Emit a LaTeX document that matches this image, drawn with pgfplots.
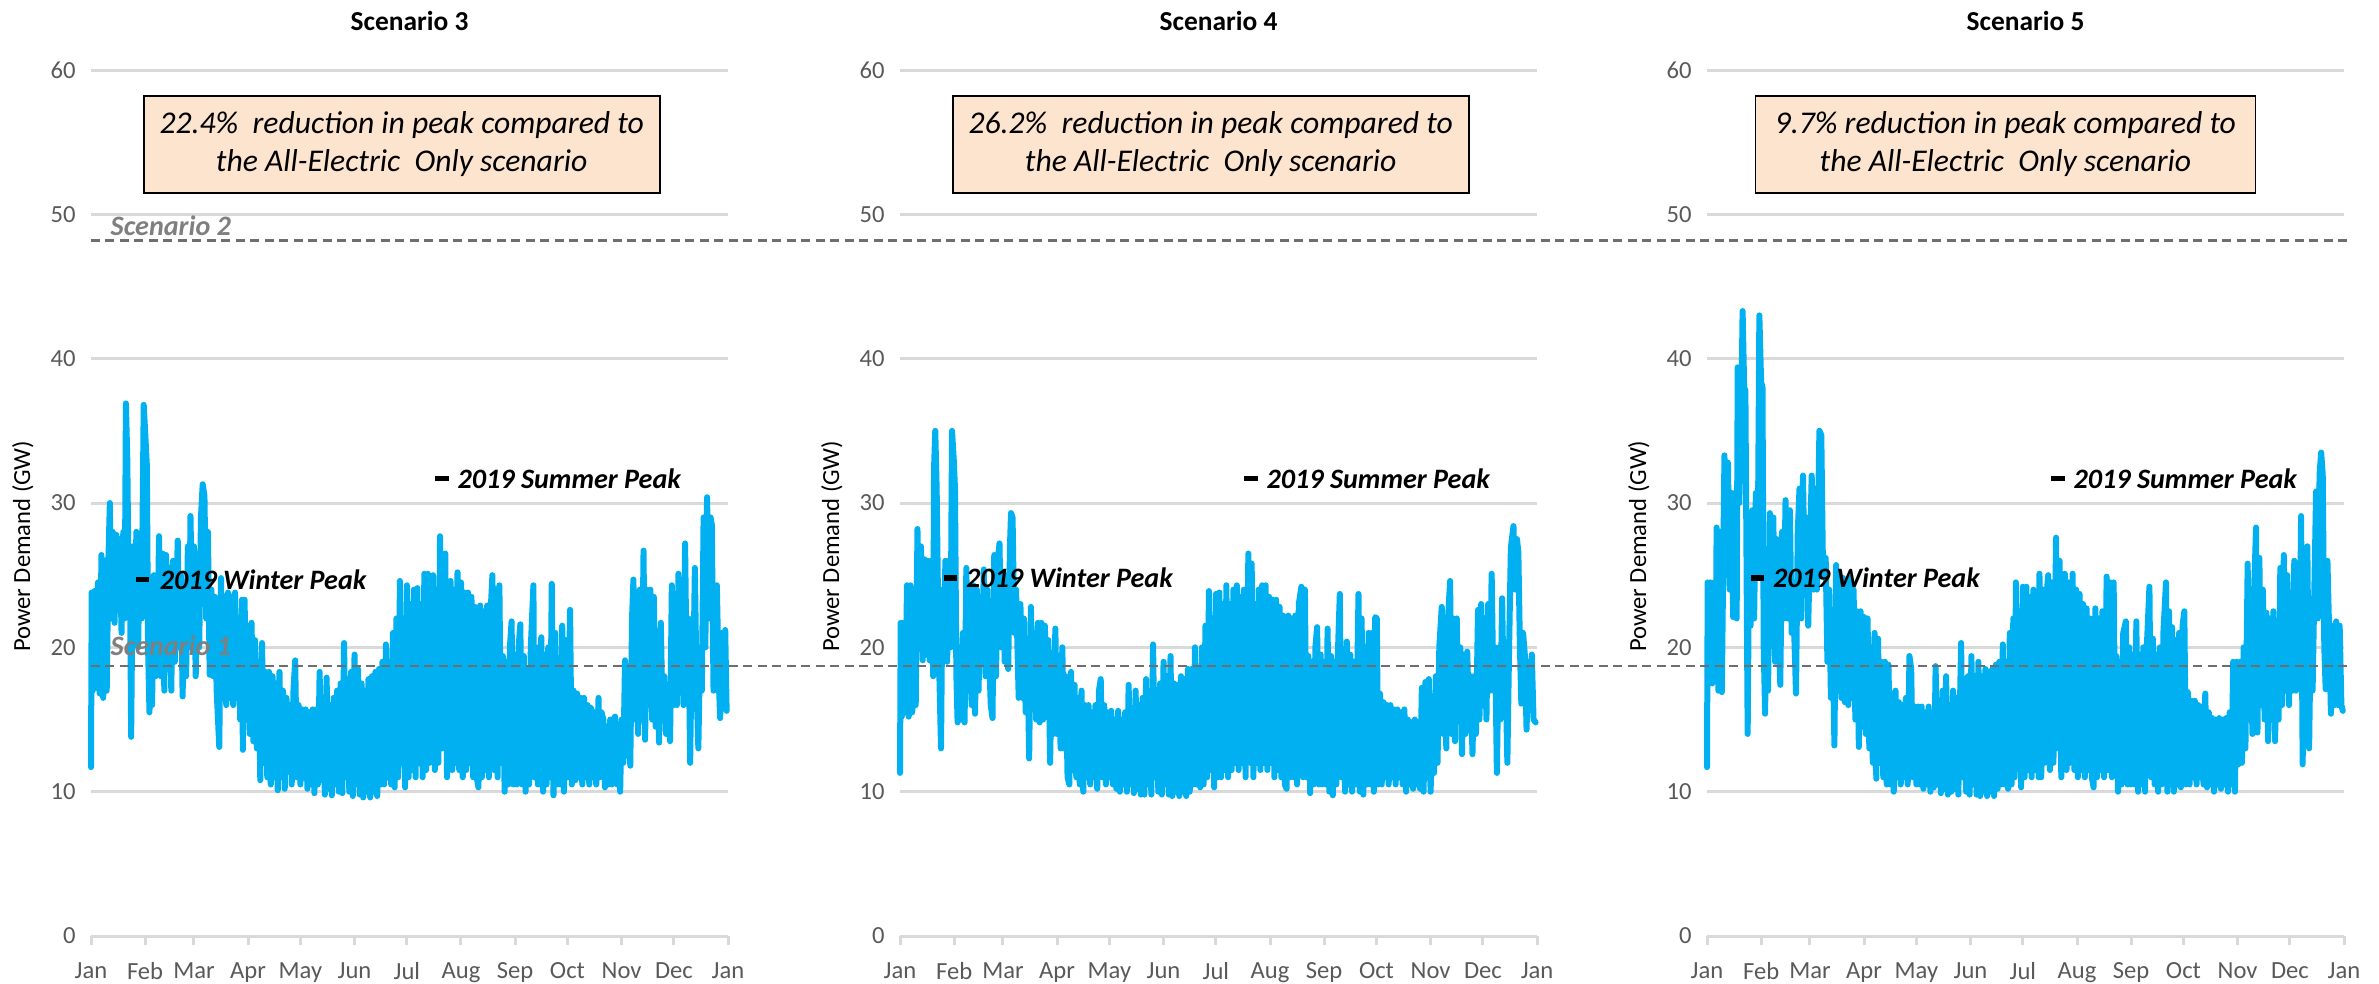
\documentclass[border=0pt]{standalone}
\usepackage{pgfplots}
\pgfplotsset{compat=1.18}
\usepackage{fontspec}
\setmainfont{Carlito}
\definecolor{series}{HTML}{00B0F0}
\definecolor{gridc}{HTML}{D9D9D9}
\definecolor{tickc}{HTML}{595959}
\definecolor{refc}{HTML}{6E6E6E}
\definecolor{lblc}{HTML}{7F7F7F}
\definecolor{boxc}{HTML}{FCE4CF}

\pgfplotsset{
  panel/.style={
    scale only axis, width=6.37cm, height=8.66cm,
    xmin=0, xmax=365, ymin=0, ymax=60,
    axis x line*=bottom, axis y line*=left,
    y axis line style={draw=none}, ytick style={draw=none},
    x axis line style={gridc, line width=0.3mm},
    xtick style={gridc, line width=0.3mm},
    xtick align=outside, major tick length=0.9mm,
    ymajorgrids, grid style={gridc, line width=0.3mm},
    ytick={0,10,...,60},
    xtick={0,31,59,90,120,151,181,212,243,273,304,334,365},
    xticklabels={Jan,Feb,Mar,Apr,May,Jun,Jul,Aug,Sep,Oct,Nov,Dec,Jan},
    tick label style={font=\fontsize{7}{8}\selectfont, text=tickc},
    xticklabel style={yshift=-0.5mm},
    yticklabel style={xshift=-0.3mm},
    /pgf/number format/assume math mode=true,
    ylabel={Power Demand (GW)},
    ylabel style={at={(axis description cs:-0.107,0.45)}, anchor=center, font=\fontsize{7}{8}\selectfont, text=black},
    title style={at={(axis description cs:0.5,1)}, anchor=center, yshift=2.8mm, font=\bfseries\fontsize{7.8}{9}\selectfont},
    clip=false,
  },
  demand/.style={series, line width=0.6mm, line join=round, line cap=round, mark=none},
  peakmark/.style={black, line width=0.55mm, mark=none},
}
\newcommand{\pklabel}{\bfseries\itshape\fontsize{8}{9.6}\selectfont}
\newcommand{\boxtext}{\itshape\fontsize{9}{10.9}\selectfont}

\begin{document}
\begin{tikzpicture}
\useasboundingbox (0,0) rectangle (23.79,9.83);

% ---------------- Scenario 3 ----------------
\begin{axis}[panel, at={(0.91cm,0.47cm)}, anchor=south west, title={Scenario 3}]
\addplot[demand] coordinates {
(0,11.7)(0.4,23.8)(1,17)(2,23.9)(3,17.2)(4,24.5)(5,16.8)(6,26.4)(7,16.5)(8,26)(9,17)(10,26.2)(10.8,30)(11.5,22)(12.5,28)(13.5,21.7)(14.5,27.8)(15.5,23)(16.5,27.5)(17.5,21)(18.5,28)(19.3,22)(20,36.9)(20.8,33)(21.5,25)(22.3,26)(23,13.8)(24,27)(25,21)(26,28)(27,20)(28,27.5)(29,22)(30.2,36.8)(31,35)
(32,32.6)(32.7,20)(33.5,15.5)(34.3,24)(35,16)(36,25)(37,18)(38,20)(39,27.7)(40,18)(41,26.5)(42,17)(43,26.4)(44,18.5)(45,25.5)(46,17)(47,26)(48,19)(49.7,27.4)(50.5,20)(51.5,25)(52.5,16.6)(53.5,24.5)(54.5,18)(55.5,27)(56.3,20)(57,29.1)(58,22)(59,27)
(60,18)(61,26)(62,20)(63,29)(64,31.3)(65,30.5)(66,22)(67,28)(68,18.1)(69,24)(70,18)(71,23.5)(72,17)(73.5,13.1)(74.5,24.8)(75.5,17)(76.5,23.5)(77.5,16)(78.5,23.8)(79.5,16.5)(80.5,23.5)(81.5,16)(82.5,23.8)(83.5,16.5)(84.5,22)(85.5,15)(86.5,23.3)(87,12.9)(88,23.3)(89,15)(90,21.5)
(91,14)(92,21.7)(93,13.5)(94,20.5)(95,13)(96,19)(97,10.8)(98,20.3)(99,12)(100,18.3)(101,11)(102,18.3)(103,10.5)(104,18)(105,11)(106,17.5)(107,10.1)(108,18.3)(109,11)(110,17)(111,10.2)(112,16.5)(113,11.5)(114,16)(115,10.5)(116,17)(117,19.1)(118,11)(119,16)(120,10.5)
(121,15.7)(122,11)(123,15.7)(124,10.2)(125,15.5)(126,10.5)(127,15.7)(128,9.9)(129,15.7)(130,10.5)(131,18.3)(132,10.8)(133,15.5)(134,9.8)(135,17.9)(136,10.2)(137,16)(138,9.75)(139,16.5)(140,10.5)(141,17)(142,10)(143,17.5)(144,9.9)(145,20.3)(146,11)(147,17)(148,10)(149,18.3)(150,9.7)(151,19.5)
(152,10.5)(153,18.5)(154,9.8)(155,17.5)(156,9.6)(157,17)(158,10)(159,17.8)(160,9.6)(161,18)(162,10)(163,18.3)(164,9.7)(165,18.5)(166,10.5)(167,19)(168,10.5)(169,20.2)(170,11)(171,19)(172,10.5)(173,21)(174,10.3)(175,22)(176,11)(177,24.6)(178,12)(179,22)(180,10.3)(181,24.3)
(182,11)(183,23)(184,11.5)(185,24)(186,11)(187,24.1)(188,12)(189,23)(190,11)(191,25.1)(192,11.5)(193,25.1)(194,12)(195,23.5)(196,25)(197,11.5)(198,24)(199,12)(200,27.7)(201,13)(202,26)(203,26.5)(204,11)(205,22)(206,24.6)(207,11.5)(208,24)(209,12)(210,25.2)(211,11.5)(212,24.5)
(213,11)(214,23.8)(215,11.5)(216,23.8)(217,12)(218,23.5)(219,11)(220,22.8)(221,11)(222,10.3)(223,22.9)(224,11)(225,22.5)(226,11.5)(227,22.9)(228,11)(229,22.5)(230,25)(231,11.5)(232,24)(233,11)(234,24.3)(235,12)(236,19.4)(237,10)(238,19)(239,10.5)(240,20)(241,21.8)(242,10.5)(243,19.5)
(244,10.5)(245,20)(246,21.6)(247,10.5)(248,19.4)(249,10)(250,18.5)(251,10.5)(252,20)(253.5,24.3)(254,11)(255,20)(256,10.5)(257,19)(258,20.7)(259,10)(260,19.5)(261,10.5)(262,20)(263,11)(264,24.4)(265,9.75)(266,21)(267,10.5)(268,19)(269,10.5)(270,21.5)(271,10)(272,20.5)(273,11)(274.5,22.6)
(275.5,10.5)(276.5,17)(277.5,10.8)(278.5,16.8)(279.5,11)(280.5,16.5)(281.5,10.5)(282.5,16.5)(283.5,11)(284.5,16)(285.5,10.5)(286.5,15.8)(287.5,11)(288.5,15.5)(289.5,10.5)(290.8,16.5)(291.5,11)(292.5,15.5)(293.6,15)(294.5,10.3)(295.5,14.5)(296.5,10.5)(297.5,15)(298.5,10.5)(299.5,15)(300.3,15.2)(301.5,10.5)(302.5,14.5)(303.2,10)(304,15)
(305,12)(306,19.1)(307,12.5)(308,17)(309,11.8)(310,22)(310.8,24.7)(311.6,15)(312.5,22)(313.5,14)(314.5,24)(315.5,15)(316.6,26.7)(317.5,13.6)(318.5,24)(319.5,16)(320.5,24)(321.5,15)(322.5,23.5)(323.5,14.5)(324.5,20)(325.5,13.4)(326.5,21.7)(327.5,15)(328.5,18)(329.5,14)(330.5,17)(331.8,13.5)(332.8,24.3)(333.8,16)
(334.8,23)(335.7,16)(336.6,25.1)(337.5,17)(338.5,22)(339.5,16)(340.4,27.2)(341.3,18)(342.3,22)(343.3,12)(344.2,20)(345,17)(346,25.5)(347,17)(348,13)(349,20)(350,17)(351,29)(352,20)(353,30.4)(354,22)(355,29)(355.7,28.5)(356.7,17)(357.6,22)(358.6,24.3)(359.6,18)(360.5,15.1)(361.5,21)(362.5,16)(363.4,21.2)(364.2,15.6)
};
\addplot[peakmark] coordinates {(26,24.7) (33.5,24.7)};
\addplot[peakmark] coordinates {(197,31.7) (205,31.7)};
\node[anchor=west, inner sep=0] at (axis cs:39,24.7) {\pklabel 2019 Winter Peak};
\node[anchor=west, inner sep=0] at (axis cs:209.7,31.7) {\pklabel 2019 Summer Peak};
\node[anchor=west, inner sep=0, text=lblc] at (axis cs:10.9,49.2) {\pklabel Scenario 2};
\node[anchor=west, inner sep=0, text=lblc] at (axis cs:10.9,20.1) {\pklabel Scenario 1};
\node[draw=black, line width=0.5pt, fill=boxc, minimum width=5.16cm, minimum height=0.97cm, align=center, inner sep=0, font=\boxtext] at (axis cs:178,54.85) {22.4\%\ \ reduction in peak compared to\\the All-Electric\ \ Only scenario};
\end{axis}

% ---------------- Scenario 4 ----------------
\begin{axis}[panel, at={(9.00cm,0.47cm)}, anchor=south west, title={Scenario 4}]
\addplot[demand] coordinates {
(0,11.3)(0.4,21.7)(1,15.2)(2,21.7)(3,15.5)(4,24.3)(5,15.2)(6,24.3)(7,15.5)(8,24)(9,16)(10,28.2)(11,20)(12,27)(13,19.1)(14,26.1)(15,19.5)(16,26)(17,19.1)(18,26)(19,18)(19.5,32.4)(20.2,35)(21,31)(22,21)(23.5,13)(24.3,24)(25,19)(26,26)(27,19)(28,26)(29,20)(29.8,35)(30.8,33)(31.5,31)
(32.3,18)(33,14.8)(34,20)(35,15)(36,21)(37,14.8)(38,25.5)(39,17)(40,24)(41,16)(42,24.3)(43,15.4)(44,24)(45,17)(46,23.5)(47,19)(48,25.4)(49,18)(50,24)(51,19.5)(52,16)(53,15.1)(54,26.4)(55,18)(56,26)(57,27.2)(58,20)(59,25)
(60,19)(61,25)(62,18.5)(63,27)(63.6,29.3)(64.5,29)(65.5,21)(66.5,24)(68,16.5)(69,23)(70,16.5)(71,22)(72,15.5)(73,20)(74,12.3)(75,22.8)(76,16)(77,21)(78,15)(79,21.7)(80,14.8)(81,21.7)(82,15)(83,21.5)(84,15.5)(85,20.5)(86,12)(87,19)(88,14)(89,21.3)(90,14)
(91,19)(92,13)(93,20)(94,13)(95,18)(96,11)(97,10.5)(98,18.3)(99,11.5)(100,17.4)(101,11)(102,16.5)(103,10.5)(104,17)(105,10)(106,16)(107,11)(108,16)(109,10.5)(110,15.5)(111,11)(112,16)(113,10.2)(114,17)(115,17.8)(116,11)(117,16)(118,10.5)(119,15.5)(120,11)
(121,15.6)(122,10.5)(123,15)(124,10.2)(125,15.6)(126,10)(127,15)(128,10.5)(129,15.5)(130,10)(131,17.4)(132,10.5)(133,15)(134,9.9)(135,17)(136,10.2)(137,16)(138,9.8)(139,16.5)(140,9.8)(141,17.8)(142,10.5)(143,16)(144,9.8)(145,20.2)(146,11)(147,16.5)(148,10)(149,17.5)(150,9.8)(151,19)
(152,10.5)(153,18)(154,9.8)(155,19.4)(156,9.7)(157,17.5)(158,10)(159,17.4)(160,9.7)(161,18)(162,10)(163,17.8)(164,9.7)(165,18.5)(166,10)(167,18.5)(168,10.5)(169,20)(170,10.5)(171,18.5)(172,10.3)(173,20)(174,10.5)(175,21.5)(176,11)(177,23.9)(178,11.5)(179,22)(180,10.3)(181,23.7)
(182,11)(183,23.8)(184,11)(185,23)(186,11.5)(187,24.3)(188,11)(189,23)(190,11.5)(191,24)(192,12)(193,24.3)(194,11.5)(195,23.5)(196,12)(197,24)(198,11)(199.6,26.5)(200.5,12)(201.5,25.8)(202.5,11)(203.5,23)(204.5,12)(205.5,24)(206.5,11.5)(207.5,24.3)(208.5,12)(209.5,24.3)(210.5,11.5)(211.5,23.5)
(212.5,12)(213.5,23.3)(214.5,11)(215.5,23.3)(216.5,11.5)(217.5,22.8)(218.5,11)(219.5,22.2)(220.5,10.5)(221.5,10.2)(222.5,22.2)(223.5,11)(224.5,22)(225.5,11)(226.5,22.2)(227.5,10.5)(228.5,23)(230,24.2)(231,11)(232,24)(233,11)(234,19.4)(235,9.9)(236,19)(237,10.5)(238,20)(239,21.4)(240,10.5)(241,19.5)(242,10.5)(243,19)
(244,10.5)(245,21.3)(246,10)(247,19.4)(248,9.75)(249,19)(250,10.5)(251,20)(252,23.7)(253,11)(254,19.5)(255,10)(256,20.4)(257,10.5)(258,19.5)(259,10)(260,19)(261,10.5)(262.7,23.7)(263.5,10)(264.5,22)(265.5,9.8)(266.5,20)(267.5,10.5)(268.5,21)(269.5,10.5)(270.5,21)(271.5,10)(272.3,22.1)(273.2,22)
(274,10.5)(275,16.8)(276,10.5)(277,16.2)(278,11)(279,16)(280,10.5)(281,16)(282,11)(283,15.7)(284,10.5)(285,15.7)(286,11)(287,15.5)(288,10.5)(289,15.7)(290,10)(291,15)(292,10.5)(293,14.8)(294,10.2)(295,15)(296,10.5)(297,14.8)(298,10.2)(299,17.2)(300,10)(301,17.6)(302,11)(303,17.8)(304,10)
(305,14)(306,11.3)(307,18)(308,12)(309,20)(310.4,22.8)(311.3,14)(312.2,20)(313,13)(314,22)(315.2,24.6)(316,14)(317,22)(318,13.5)(319,22)(320,15)(321,20)(322,12.6)(323,19.5)(324,14)(325,19.7)(326,15)(327,18)(328,12.6)(329,18)(330,14)(331.2,22.6)(332,15)(333,23)(334,16)
(335,22)(336,15)(337,23)(338,17)(339,25.1)(340,17)(341,20)(342,11.3)(343,20)(344,15)(345,23.4)(346,16)(347,18)(348,12)(349,20)(350,26.9)(351.5,28.4)(352.5,24)(353.5,27.5)(354.3,26.6)(355.2,20)(356,16.1)(357,21)(358,19.5)(359,14.3)(360,19)(361,16)(362,19.5)(363,15)(364.2,14.8)
};
\addplot[peakmark] coordinates {(25,24.8) (32.5,24.8)};
\addplot[peakmark] coordinates {(197,31.7) (205,31.7)};
\node[anchor=west, inner sep=0] at (axis cs:37.5,24.8) {\pklabel 2019 Winter Peak};
\node[anchor=west, inner sep=0] at (axis cs:209.7,31.7) {\pklabel 2019 Summer Peak};
\node[draw=black, line width=0.5pt, fill=boxc, minimum width=5.16cm, minimum height=0.97cm, align=center, inner sep=0, font=\boxtext] at (axis cs:178,54.85) {26.2\%\ \ reduction in peak compared to\\the All-Electric\ \ Only scenario};
\end{axis}

% ---------------- Scenario 5 ----------------
\begin{axis}[panel, at={(17.07cm,0.47cm)}, anchor=south west, title={Scenario 5}]
\addplot[demand] coordinates {
(0,11.7)(0.4,24.5)(1,17.5)(2,24.5)(3,17.5)(4,24.5)(5,17.8)(5.5,28.3)(6.5,17)(7.5,28)(8.5,16.9)(9.5,28)(10,33.3)(11,25)(12,32.8)(13,24)(14,30.7)(15,22.1)(16,30.7)(17,22)(17.6,39.4)(18.5,30)(19.5,35)(20.4,43.3)(21.3,38)(22,37.8)(23.3,14)(24.2,28)(25,21.5)(26,29.5)(27,22)(28,30.7)(29,25)(30,43)(31,38.4)(31.8,38)
(32.5,20)(33.3,15.4)(34,24)(35,17)(36,29.3)(37,21)(38,29)(39,19)(40,27.5)(41,21)(42,17.4)(43,28)(44,22)(45,30.2)(46,22)(47.5,29.5)(48.5,21)(49.5,23)(51,16.8)(52,28)(53,31)(54,22)(55,31.9)(56,24)(57,29)(58,21.5)(59,27)
(60,31.9)(61,24)(62,31)(63,24)(64.4,35)(65.5,34.7)(66.5,25)(68,26.2)(69,19)(70,24)(71,16.5)(72,21)(73,13.2)(74,25.7)(75,17)(76,24.8)(77,16.5)(78,24.8)(79,16.2)(80,24.5)(81,16)(82,24.8)(83,16.5)(84,24)(85,15)(86,22.5)(87,13.1)(88,22.5)(89,14.5)(90,22.1)
(91,14)(92,22)(93,13)(94,20)(95,12)(96,21)(97,10.9)(98,20.6)(99,12)(100,19)(101,11)(102,19)(103,10.5)(104,18.8)(105,10.5)(106,16.8)(107,10)(108,17)(109,11)(110,16.2)(111,10.5)(112,16)(113,11)(114,16.5)(115,10.5)(116,19.4)(117,18.5)(118,11)(119,15.9)(120,10.5)
(121,15.9)(122,10.5)(123,15.9)(124,10.2)(125,15.5)(126,10.5)(127,15.9)(128,10)(129,15.5)(130,10.3)(131,18.7)(132,10.5)(133,15.5)(134,9.9)(135,17)(136,10.2)(137,18)(138,9.8)(139,16)(140,10)(141,17)(142,10.2)(143,16.5)(144,9.8)(145.6,20.3)(146.5,11)(147.5,17.5)(148.5,10)(149.5,18)(150.5,9.8)(151.5,19.4)
(152.5,10.5)(153.5,18)(154.5,9.8)(155.5,19)(156.5,9.7)(157.5,18)(158.5,10)(159.5,18.5)(160.5,9.7)(161.5,18.3)(162.5,10)(163.5,18.5)(164.5,9.7)(165.5,18.8)(166.5,10.2)(167.5,19)(168.5,10.5)(169.5,20.2)(170.5,10.5)(171.5,19)(172.5,10.2)(173.5,21)(174.5,10.5)(175.5,22)(176.3,11)(177,24.5)(178,12)(179,22.5)(180,10.3)(181,24.2)
(182,11)(183,24.2)(184,11.5)(185,23.5)(186,11)(187,24)(188,11.5)(189,23)(190,11)(190.5,25.1)(191.5,11)(192.5,24)(193.5,12)(194.5,23.5)(195.5,25)(196.5,11.5)(197.5,24.5)(198.5,12)(200,27.6)(201,13)(202,26)(203,11)(204,24)(205,25.1)(206,11.5)(207,24.5)(208,12)(209.5,25.1)(210.5,11.5)(211.5,24)
(212.5,11)(213.5,23.7)(214.5,11.5)(215.5,23)(216.5,11)(217.5,22.7)(218.5,11.5)(219.5,22)(220.5,11)(221.5,10.3)(222.5,22.7)(223.5,11)(224.5,22)(225.5,11.5)(226.5,22.5)(227.5,11)(229,24.9)(230,11.5)(231,24.5)(232,11)(233,24.5)(234,12)(234.5,19.4)(235.5,10)(236.5,19)(237.5,10.5)(238.5,21)(240,21.8)(241,10.5)(242,20)(243,10.5)
(244,19.5)(245,10.5)(246,21.8)(247,10)(248,19.5)(249,10.5)(250,20)(251,10)(252,20)(253.5,24.2)(254.5,11)(255.5,20.6)(256.5,10.5)(257.5,19.5)(258.5,10)(259.5,20)(260.5,10.5)(261.5,21)(263,24.5)(263.8,10)(264.7,22.5)(265.5,10.5)(266.5,21.4)(267.5,10)(268.5,20.5)(269.5,10.5)(270.5,21)(271.5,10.3)(272.5,21.5)(273.5,22.5)
(274.5,10.5)(275.5,16.9)(276.5,10.5)(277.5,16.3)(278.5,11)(279.5,16.3)(280.5,10.5)(281.5,16)(282.5,11)(283.5,15.9)(284.5,10.5)(285.5,16.8)(286.5,10.3)(287.5,15.5)(288.5,10.5)(289.5,15.1)(290.5,10)(291.5,15)(292.5,10.5)(293.5,15.1)(294.5,10.2)(295.5,15)(296.5,10.5)(297.5,15.1)(298.5,10)(299.5,15.5)(300.5,10.5)(301.5,19)(302.5,10)(303.5,19)
(304.5,11.9)(305.5,19)(306.5,12)(307.5,20)(308.5,13)(309.8,25.8)(310.6,15)(311.5,22)(312.5,14)(313.5,24)(314.6,28.3)(315.4,14.1)(316.5,26.2)(317.5,16)(318.5,24)(319.5,15)(320.5,22.4)(321.5,13.5)(322.5,22)(323.5,15)(324.5,22.5)(325.5,13.5)(326.5,21)(327.5,15)(328.5,25.5)(329.5,16)(330.5,26.4)(331.5,17)(332.5,25)(333.5,16)
(334.5,23)(335.5,17)(336.5,26)(337.5,17)(338.5,24)(339.5,18)(340.4,29.1)(341.3,11.9)(342.2,22)(343,16)(344,27)(345,13)(346,22)(347,17)(348,24)(349,30.8)(350,22)(351,32)(351.9,33.5)(352.8,32)(353.7,20)(354.5,17.1)(355.5,26)(356.5,21)(357.5,15.4)(358.5,21.5)(359.5,16)(360.5,21.8)(361.5,16)(362.5,21.5)(363.5,16)(364.3,15.6)
};
\addplot[peakmark] coordinates {(25,24.8) (32.5,24.8)};
\addplot[peakmark] coordinates {(197,31.7) (205,31.7)};
\node[anchor=west, inner sep=0] at (axis cs:37.5,24.8) {\pklabel 2019 Winter Peak};
\node[anchor=west, inner sep=0] at (axis cs:209.7,31.7) {\pklabel 2019 Summer Peak};
\node[draw=black, line width=0.5pt, fill=boxc, minimum width=5.0cm, minimum height=0.97cm, align=center, inner sep=0, font=\boxtext] at (axis cs:171,54.85) {9.7\% reduction in peak compared to\\the All-Electric\ \ Only scenario};
% reference lines for Scenario 1 and Scenario 2, spanning all three panels
\draw[refc, line width=0.25mm, dash pattern=on 0.9mm off 0.55mm] (axis cs:-926,48.2) -- (axis cs:368,48.2);
\draw[refc, line width=0.25mm, dash pattern=on 0.9mm off 0.55mm] (axis cs:-926,18.7) -- (axis cs:368,18.7);
\end{axis}
\end{tikzpicture}
\end{document}
